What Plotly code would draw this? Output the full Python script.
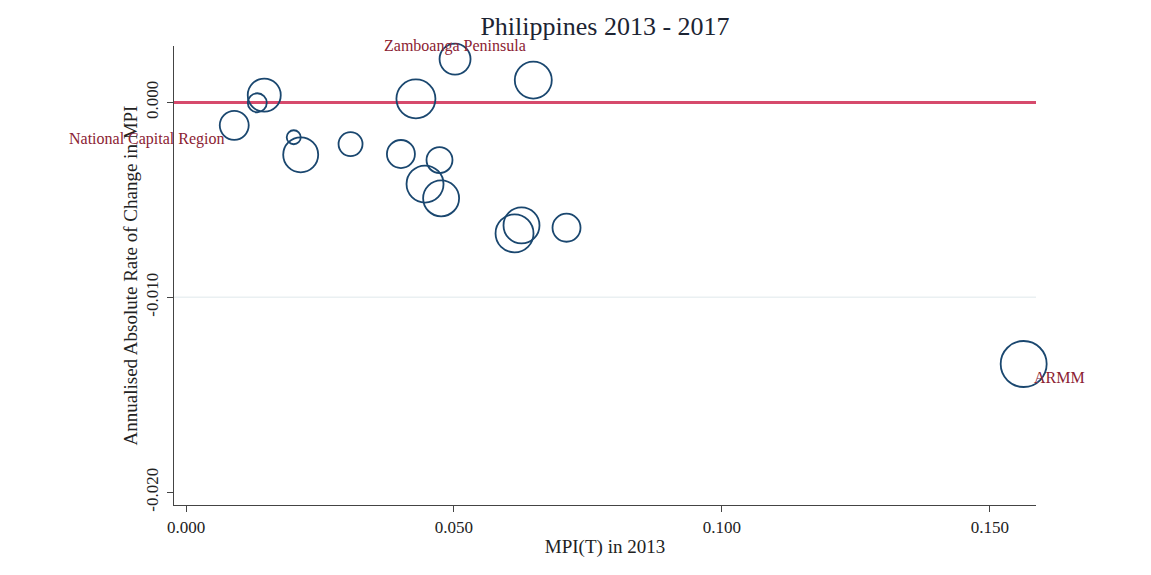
import plotly.graph_objects as go

# ---- data ----
mpi_2013 = [0.0090, 0.0133, 0.0146, 0.0201, 0.0214, 0.0307, 0.0401, 0.0429,
            0.0473, 0.0446, 0.0476, 0.0502, 0.0648, 0.0613, 0.0626, 0.0710, 0.1563]
abs_change = [-0.00118, -0.00002, 0.00037, -0.00179, -0.00269, -0.00214, -0.00265, 0.00018,
              -0.00296, -0.00419, -0.00492, 0.00222, 0.00114, -0.00672, -0.00631, -0.00643, -0.01342]
weight = [39.7, 17.1, 51.5, 9.3, 57.9, 27.2, 37.1, 71.9,
          31.9, 64.7, 61.2, 45.4, 64.7, 68.2, 61.2, 37.1, 100.0]
labels = ["National Capital Region", "", "", "", "", "", "", "",
          "", "", "", "Zamboanga Peninsula", "", "", "", "", "ARMM"]

x_ticks = [0.0, 0.05, 0.10, 0.15]
y_ticks = [0.0, -0.01, -0.02]
x_ticktext = [f"{v:.3f}" for v in x_ticks]
y_ticktext = [f"{v:.3f}" for v in y_ticks]
y_gridlines = [-0.01]

title = "Philippines 2013 - 2017"
x_title = "MPI(T) in 2013"
y_title = "Annualised Absolute Rate of Change in MPI"

# ---- styling ----
NAVY = "#1a476f"
LABEL = "#8b2232"
RED = "#d64a6c"
SERIF = "Liberation Serif, Times New Roman, serif"
max_d = 46
sizeref = 2.0 * max(weight) / max_d ** 2

fig = go.Figure()
fig.add_trace(go.Scatter(
    x=mpi_2013, y=abs_change, mode="markers", cliponaxis=False,
    marker=dict(size=weight, sizemode="area", sizeref=sizeref, opacity=1,
                color="rgba(0,0,0,0)", line=dict(color=NAVY, width=1.8)),
    hoverinfo="x+y", showlegend=False,
))

for g in y_gridlines:
    fig.add_shape(type="line", xref="paper", x0=0, x1=1, yref="y", y0=g, y1=g,
                  line=dict(color="#eaf0f2", width=1.5), layer="below")

# label placement (style): (xanchor, xshift, yshift)
placement = {
    "National Capital Region": ("right", -7, -14),
    "Zamboanga Peninsula": ("center", 0, 13),
    "ARMM": ("left", 8, -13),
}
for xv, yv, lab in zip(mpi_2013, abs_change, labels):
    if not lab:
        continue
    xa, xs, ys = placement[lab]
    fig.add_annotation(x=xv, y=yv, xref="x", yref="y", text=lab, showarrow=False,
                       xanchor=xa, yanchor="middle", xshift=xs, yshift=ys,
                       font=dict(family=SERIF, size=16, color=LABEL))

fig.update_layout(
    width=1151, height=575,
    paper_bgcolor="white", plot_bgcolor="white",
    margin=dict(l=166, r=123, t=38, b=78),
    title=dict(text=title, x=0.5, xanchor="center", xref="paper",
               y=0.969, yanchor="middle",
               font=dict(family=SERIF, size=26, color="#1c2433")),
    font=dict(family=SERIF, color="#222"),
    xaxis=dict(range=[-0.00224, 0.1586], tickvals=x_ticks, ticktext=x_ticktext,
               showgrid=False, zeroline=False, showline=True, linecolor="#444",
               linewidth=1.2, ticks="outside", ticklen=6, tickcolor="#444",
               tickfont=dict(family=SERIF, size=17, color="#222"),
               title=dict(text=x_title, standoff=4,
                          font=dict(family=SERIF, size=19, color="#222"))),
    yaxis=dict(range=[-0.02065, 0.00289], tickvals=y_ticks, ticktext=y_ticktext,
               tickangle=-90, showgrid=False,
               zeroline=True, zerolinecolor=RED, zerolinewidth=2.5,
               showline=True, linecolor="#444", linewidth=1.2,
               ticks="outside", ticklen=6, tickcolor="#444", ticklabelstandoff=2,
               tickfont=dict(family=SERIF, size=17, color="#222"),
               title=dict(text=y_title, standoff=0,
                          font=dict(family=SERIF, size=19, color="#222"))),
)

fig.write_html("out.html")
